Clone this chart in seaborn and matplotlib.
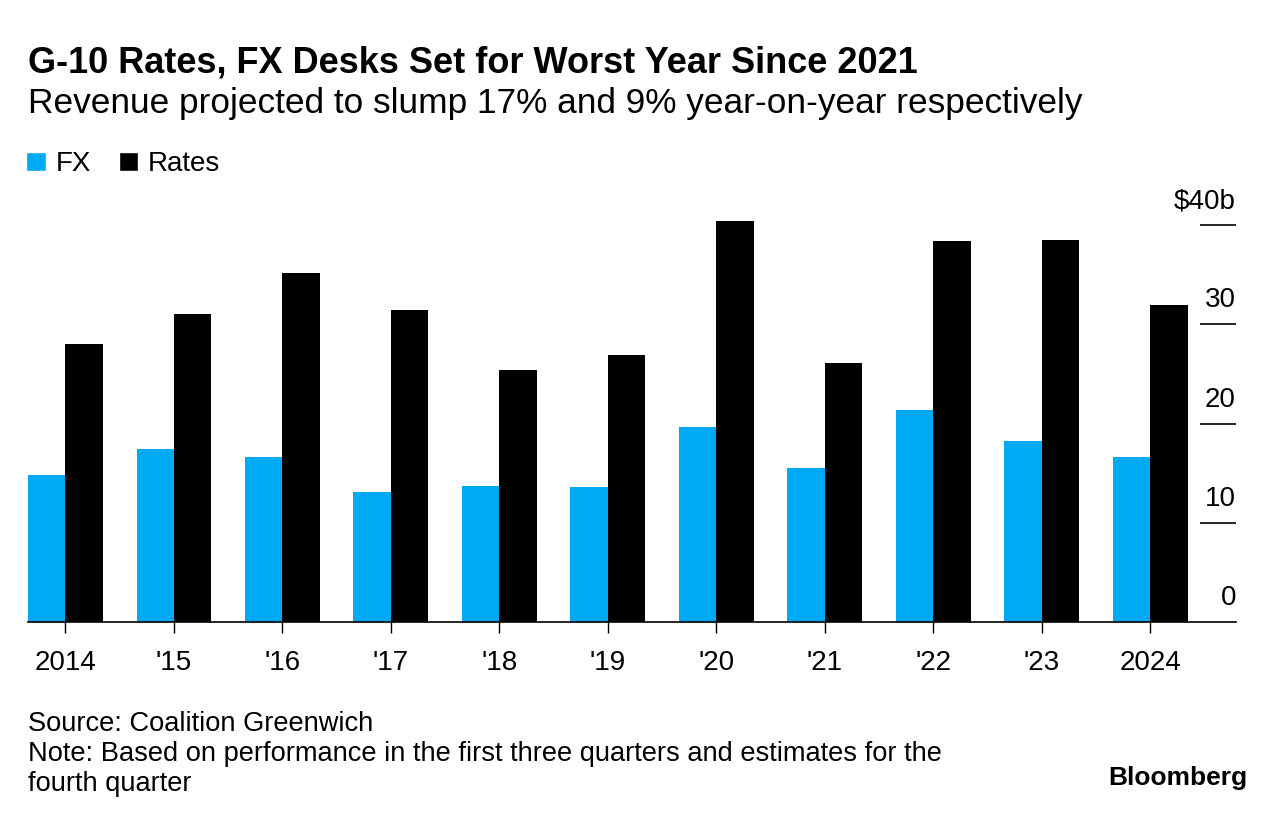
import pandas as pd
import matplotlib.pyplot as plt
import matplotlib.transforms as mtransforms
from matplotlib.patches import Patch
import seaborn as sns

# Revenue in $b
years = ["2014", "'15", "'16", "'17", "'18", "'19", "'20", "'21", "'22", "'23", "2024"]
fx = [14.8, 17.4, 16.6, 13.1, 13.7, 13.6, 19.7, 15.5, 21.4, 18.2, 16.6]
rates = [28.0, 31.0, 35.2, 31.4, 25.4, 26.9, 40.4, 26.1, 38.4, 38.5, 31.9]
y_ticks = [0, 10, 20, 30, 40]
y_labels = ["0", "10", "20", "30", "$40b"]

df = pd.DataFrame({"year": years * 2,
                   "desk": ["FX"] * len(years) + ["Rates"] * len(years),
                   "revenue": fx + rates})

sns.set_style("white")
plt.rcParams["font.family"] = ["Liberation Sans", "DejaVu Sans"]
plt.rcParams["text.color"] = "#000000"
plt.rcParams["xtick.color"] = "#000000"
plt.rcParams["ytick.color"] = "#000000"

palette = {"FX": "#00A9F4", "Rates": "#000000"}

fig = plt.figure(figsize=(12.86, 8.24), dpi=100)
ax = fig.add_axes([0.0218, 0.245, 0.9393, 0.506])

sns.barplot(data=df, x="year", y="revenue", hue="desk", palette=palette,
            width=0.69, dodge=True, saturation=1, legend=False,
            linewidth=0, ax=ax)

ax.set_xlim(-0.345, 10.79)
ax.set_ylim(0, 42)
for s in ["top", "left", "right"]:
    ax.spines[s].set_visible(False)
ax.spines["bottom"].set_color("#000000")
ax.spines["bottom"].set_linewidth(1.2)
ax.set_xlabel("")
ax.set_ylabel("")

ax.tick_params(axis="x", length=8, width=1, color="#000000", pad=12,
               labelsize=20, labelcolor="#000000", bottom=True)
ax.yaxis.tick_right()
ax.set_yticks(y_ticks)
ax.set_yticklabels([])
ax.tick_params(axis="y", direction="in", length=26, width=1.2,
               color="#000000", right=True, left=False)
ax.yaxis.get_major_ticks()[0].tick2line.set_visible(False)

trans = mtransforms.blended_transform_factory(ax.transAxes, ax.transData)
for v, lab in zip(y_ticks, y_labels):
    ax.text(1.0, v + 1.1, lab, transform=trans, ha="right", va="bottom",
            fontsize=20, color="#000000")

fig.text(0.0218, 0.923, "G-10 Rates, FX Desks Set for Worst Year Since 2021",
         fontsize=26, fontweight="bold", ha="left", va="center")
fig.text(0.0218, 0.874, "Revenue projected to slump 17% and 9% year-on-year respectively",
         fontsize=25.4, ha="left", va="center")

handles = [Patch(facecolor=palette["FX"], label="FX"),
           Patch(facecolor=palette["Rates"], label="Rates")]
fig.legend(handles=handles, loc="center left", bbox_to_anchor=(0.001, 0.801),
           ncol=2, frameon=False, fontsize=20, handlelength=0.7,
           handleheight=0.7, handletextpad=0.35, columnspacing=1.0)

fig.text(0.0218, 0.121, "Source: Coalition Greenwich", fontsize=19.6,
         ha="left", va="center")
fig.text(0.0218, 0.085,
         "Note: Based on performance in the first three quarters and estimates for the",
         fontsize=19.6, ha="left", va="center")
fig.text(0.0218, 0.049, "fourth quarter", fontsize=19.6, ha="left", va="center")
fig.text(0.97, 0.056, "Bloomberg", fontsize=19, fontweight="bold",
         ha="right", va="center")

plt.savefig("out.png", dpi=100)
